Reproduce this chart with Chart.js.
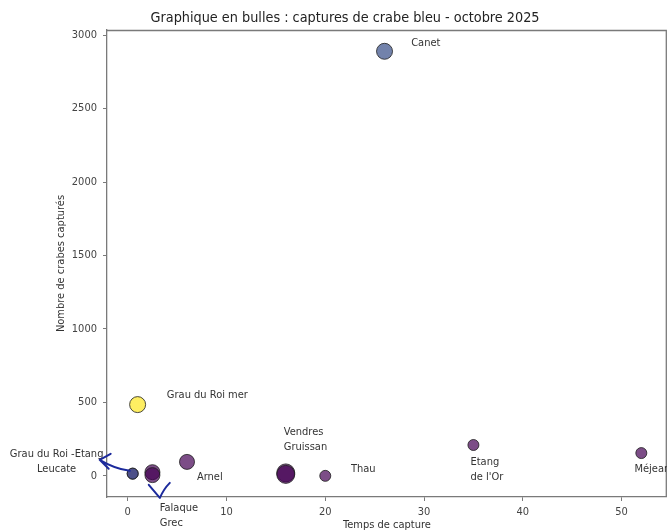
<!DOCTYPE html>
<html>
<head>
<meta charset="utf-8">
<script src="https://cdn.jsdelivr.net/npm/chart.js@4/dist/chart.umd.min.js"></script>
<style>
  html, body { margin: 0; padding: 0; background: #fff; }
  #wrap { width: 667px; height: 532px; }
</style>
</head>
<body>
<div id="wrap"><canvas id="myChart" width="667" height="532"></canvas></div>
<script>
// données
const sites = ['Canet', 'Grau du Roi mer', 'Leucate', 'Grau du Roi -Etang', 'Falaque', 'Grec',
    'Arnel', 'Vendres', 'Gruissan', 'Thau', "Etang de l'Or", 'Méjean'];
const tempsCapture = [26, 1, 0.5, 0.5, 2.5, 2.5, 6, 16, 16, 20, 35, 52];
const nbCrabes = [2890, 485, 15, 15, 25, 5, 95, 20, 10, 0, 210, 155];
const tailleBulle = [8, 8, 5.5, 5.5, 7.5, 7.5, 7.5, 9, 9, 5.5, 5.5, 5.5];
const couleurBulle = ['blue', 'yellow', 'purple', 'blue', 'purple', 'purple',
    'purple', 'purple', 'purple', 'purple', 'purple', 'purple'];
const xTicks = [0, 10, 20, 30, 40, 50];
const yTicks = [0, 500, 1000, 1500, 2000, 2500, 3000];

const palette = {
    blue: 'rgba(59, 82, 139, 0.72)',
    yellow: 'rgba(253, 231, 37, 0.72)',
    purple: 'rgba(68, 1, 84, 0.7)'
};

// annotations (texte placé en coordonnées du graphique)
const notes = [
    { lines: ['Canet'], x: 28.7, y: 2943, align: 'left' },
    { lines: ['Grau du Roi mer'], x: 3.96, y: 552, align: 'left' },
    { lines: ['Grau du Roi -Etang', 'Leucate'], x: -7.2, y: 150, align: 'center' },
    { lines: ['Arnel'], x: 7.0, y: -7, align: 'left' },
    { lines: ['Falaque', 'Grec'], x: 3.25, y: -218, align: 'left' },
    { lines: ['Vendres', 'Gruissan'], x: 15.8, y: 300, align: 'left' },
    { lines: ['Thau'], x: 22.6, y: 48, align: 'left' },
    { lines: ['Etang', "de l'Or"], x: 34.7, y: 95, align: 'left' },
    { lines: ['Méjean'], x: 51.3, y: 48, align: 'left' }
];
// flèches dessinées à la main
const arrows = [
    { from: [0.2, 34], ctrl: [-1.32, 48], tip: [-2.84, 109], arms: [[-1.73, 150], [-1.93, 48]] },
    { from: [4.26, -48], ctrl: [3.65, -89], tip: [3.25, -150], arms: [[2.13, -61]] }
];

const FONT = "'DejaVu Sans Condensed', 'Liberation Sans Narrow', 'DejaVu Sans', sans-serif";
const AXIS = '#7a7a7a';

const notesPlugin = {
    id: 'notes',
    afterDraw(chart) {
        const ctx = chart.ctx;
        const xs = chart.scales.x, ys = chart.scales.y;
        const a = chart.chartArea;
        ctx.save();
        // cadre haut / droite
        ctx.strokeStyle = AXIS;
        ctx.lineWidth = 1.3;
        ctx.beginPath();
        ctx.moveTo(a.left, a.top + 0.5);
        ctx.lineTo(a.right - 0.7, a.top + 0.5);
        ctx.lineTo(a.right - 0.7, a.bottom);
        ctx.stroke();

        // titre
        ctx.fillStyle = '#222';
        ctx.font = "14.3px 'DejaVu Sans Condensed', 'DejaVu Sans', sans-serif";
        ctx.textAlign = 'center';
        ctx.textBaseline = 'middle';
        ctx.fillText('Graphique en bulles : captures de crabe bleu - octobre 2025', 345, 18);

        // étiquettes
        ctx.font = '11px ' + FONT;
        ctx.fillStyle = '#333';
        notes.forEach(n => {
            ctx.textAlign = n.align;
            const px = xs.getPixelForValue(n.x);
            const py = ys.getPixelForValue(n.y);
            n.lines.forEach((t, i) => ctx.fillText(t, px, py + i * 15));
        });

        // flèches
        ctx.strokeStyle = '#1c2a9c';
        ctx.lineWidth = 2;
        ctx.lineCap = 'round';
        const P = p => [xs.getPixelForValue(p[0]), ys.getPixelForValue(p[1])];
        arrows.forEach(ar => {
            const f = P(ar.from), c = P(ar.ctrl), t = P(ar.tip);
            ctx.beginPath();
            ctx.moveTo(f[0], f[1]);
            ctx.quadraticCurveTo(c[0], c[1], t[0], t[1]);
            ar.arms.forEach(m => {
                const q = P(m);
                ctx.moveTo(t[0], t[1]);
                ctx.lineTo(q[0], q[1]);
            });
            ctx.stroke();
        });
        ctx.restore();
    }
};

const data = {
    datasets: [{
        label: 'Captures',
        data: sites.map((s, i) => ({ x: tempsCapture[i], y: nbCrabes[i], r: tailleBulle[i] })),
        backgroundColor: couleurBulle.map(c => palette[c]),
        borderColor: 'rgba(30, 30, 30, 0.8)',
        borderWidth: 1
    }]
};

const config = {
    type: 'bubble',
    data: data,
    plugins: [notesPlugin],
    options: {
        responsive: false,
        animation: false,
        layout: { autoPadding: false, padding: { top: 30, left: 0, right: 0, bottom: 0 } },
        plugins: {
            legend: { display: false },
            tooltip: { enabled: false },
            title: { display: false }
        },
        scales: {
            x: {
                type: 'linear',
                min: -2.1,
                max: 54.6,
                afterBuildTicks: s => { s.ticks = xTicks.map(v => ({ value: v })); },
                afterFit: s => { s.height = 35; s.paddingLeft = 0; s.paddingRight = 0; },
                grid: { drawOnChartArea: false, tickLength: 4, color: AXIS },
                border: { color: AXIS, width: 1.3 },
                ticks: { color: '#444', padding: 5, font: { family: FONT, size: 11 }, callback: v => String(v) },
                title: {
                    display: true, text: 'Temps de capture', color: '#333',
                    padding: { top: 0, bottom: 0 }, font: { family: FONT, size: 11 }
                }
            },
            y: {
                type: 'linear',
                min: -144,
                max: 3035,
                afterBuildTicks: s => { s.ticks = yTicks.map(v => ({ value: v })); },
                afterFit: s => { s.width = 107; s.paddingTop = 0; s.paddingBottom = 0; },
                grid: { drawOnChartArea: false, tickLength: 4, color: AXIS },
                border: { color: AXIS, width: 1.3 },
                ticks: { color: '#444', padding: 6, font: { family: FONT, size: 11 }, callback: v => String(v) },
                title: {
                    display: true, text: 'Nombre de crabes capturés', color: '#333',
                    padding: { top: 55, bottom: 0 }, font: { family: FONT, size: 11 }
                }
            }
        }
    }
};

const myChart = new Chart(document.getElementById('myChart'), config);
</script>
</body>
</html>
